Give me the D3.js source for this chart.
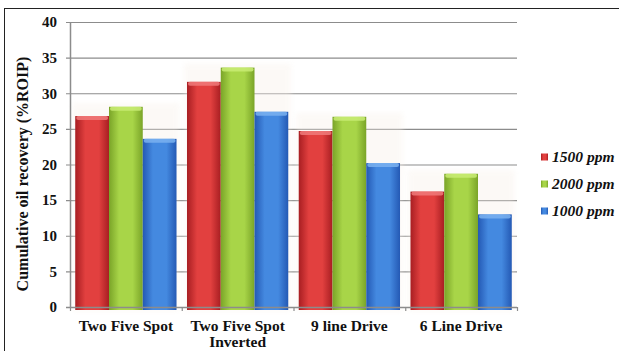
<!DOCTYPE html>
<html>
<head>
<meta charset="utf-8">
<script src="https://cdn.jsdelivr.net/npm/d3@7"></script>
<style>
  html, body { margin: 0; padding: 0; background: #fff; }
  svg { display: block; }
  text { font-family: "Liberation Serif", "Times New Roman", serif; font-weight: bold; fill: #111; }
</style>
</head>
<body>
<svg id="chart" width="619" height="351"></svg>
<script>
// Recovery by well pattern and polymer concentration
const categories = [["Two Five Spot"], ["Two Five Spot", "Inverted"], ["9 line Drive"], ["6 Line Drive"]];
const seriesNames = ["1500 ppm", "2000 ppm", "1000 ppm"];
const values1500 = [26.8, 31.6, 24.7, 16.2];
const values2000 = [28.1, 33.6, 26.7, 18.7];
const values1000 = [23.6, 27.4, 20.2, 13.0];
const yTicks = [0, 5, 10, 15, 20, 25, 30, 35, 40];

const seriesValues = [values1500, values2000, values1000];
const palette = [
  { edge: "#a81e22", mid: "#e2403f", cap: "#f07a7a" },
  { edge: "#7aa428", mid: "#a8d548", cap: "#c9ec74" },
  { edge: "#2459b4", mid: "#4489e0", cap: "#7ab2f0" }
];

const svg = d3.select("#chart");
const x0 = 70, x1 = 517, yTop = 22, yBot = 307;

// Frame around the chart
svg.append("rect").attr("x", 4.5).attr("y", 8.5).attr("width", 640).attr("height", 400)
  .attr("fill", "none").attr("stroke", "#222").attr("stroke-width", 1);

const defs = svg.append("defs");
palette.forEach((p, i) => {
  const g = defs.append("linearGradient").attr("id", "bar" + i).attr("x1", "0").attr("x2", "1").attr("y1", "0").attr("y2", "0");
  g.append("stop").attr("offset", "0%").attr("stop-color", p.edge);
  g.append("stop").attr("offset", "30%").attr("stop-color", p.mid);
  g.append("stop").attr("offset", "70%").attr("stop-color", p.mid);
  g.append("stop").attr("offset", "100%").attr("stop-color", p.edge);
});
const blur = defs.append("filter").attr("id", "glow").attr("x", "-30%").attr("y", "-10%").attr("width", "160%").attr("height", "120%");
blur.append("feGaussianBlur").attr("stdDeviation", 2.5);

const x = d3.scaleBand().domain(d3.range(categories.length)).range([x0, x1]).paddingInner(0).paddingOuter(0);
const xs = d3.scaleBand().domain(d3.range(seriesNames.length)).range([0, x.bandwidth()]).paddingInner(0).paddingOuter(0.155);
const y = d3.scaleLinear().domain([0, 40]).range([yBot, yTop]);

// Gridlines
svg.append("g").selectAll("line").data(yTicks.filter(d => d > 0)).join("line")
  .attr("x1", x0 - 4).attr("x2", x1).attr("y1", d => y(d) + 0.5).attr("y2", d => y(d) + 0.5)
  .attr("stroke", "#8c8c8c").attr("stroke-width", 1.2);

// Bars
const groups = svg.append("g").selectAll("g").data(categories).join("g")
  .attr("transform", (d, i) => `translate(${x(i)},0)`);

groups.each(function (c, ci) {
  const g = d3.select(this);
  const top = d3.max(seriesValues, s => s[ci]);
  // soft halo behind each cluster
  g.append("rect")
    .attr("x", xs(0) - 3).attr("width", xs.bandwidth() * 3 + 6)
    .attr("y", y(top) - 4).attr("height", yBot - y(top) + 8)
    .attr("fill", "#f8f0e8").attr("opacity", 0.35).attr("filter", "url(#glow)");
  seriesValues.forEach((s, si) => {
    const v = s[ci];
    const bx = xs(si), bw = xs.bandwidth();
    g.append("rect").attr("x", bx).attr("width", bw)
      .attr("y", y(v)).attr("height", yBot - y(v) + 3)
      .attr("fill", `url(#bar${si})`);
    g.append("rect").attr("x", bx + 1).attr("width", bw - 2)
      .attr("y", y(v)).attr("height", 4).attr("rx", 2)
      .attr("fill", palette[si].cap).attr("opacity", 0.85);
  });
});

// Axes
svg.append("line").attr("x1", x0 + 0.5).attr("x2", x0 + 0.5).attr("y1", yTop).attr("y2", yBot)
  .attr("stroke", "#8c8c8c").attr("stroke-width", 1.5);
svg.append("line").attr("x1", x0 - 4).attr("x2", x1).attr("y1", yBot + 0.5).attr("y2", yBot + 0.5)
  .attr("stroke", "#8c8c8c").attr("stroke-width", 1.5);
// category tick marks
svg.append("g").selectAll("line").data(d3.range(categories.length + 1)).join("line")
  .attr("x1", i => (i < categories.length ? x(i) : x1) + 0.5)
  .attr("x2", i => (i < categories.length ? x(i) : x1) + 0.5)
  .attr("y1", yBot).attr("y2", yBot + 4)
  .attr("stroke", "#8c8c8c").attr("stroke-width", 1.2);

// Y tick labels
svg.append("g").selectAll("text").data(yTicks).join("text")
  .attr("x", 57).attr("y", d => y(d)).attr("dy", "0.35em")
  .attr("text-anchor", "end").attr("font-size", 15).text(d => d);

// Category labels
const cl = svg.append("g").selectAll("text").data(categories).join("text")
  .attr("x", (d, i) => x(i) + x.bandwidth() / 2).attr("y", 331)
  .attr("text-anchor", "middle").attr("font-size", 15.5);
cl.selectAll("tspan").data(d => d).join("tspan")
  .attr("x", function () { return d3.select(this.parentNode).attr("x"); })
  .attr("dy", (d, i) => i === 0 ? 0 : 16).text(d => d);

// Y axis title
svg.append("text").attr("transform", "translate(22,174) rotate(-90)")
  .attr("text-anchor", "middle").attr("dy", "0.35em").attr("font-size", 16)
  .text("Cumulative oil recovery (%ROIP)");

// Legend
const lg = svg.append("g").selectAll("g").data(seriesNames).join("g")
  .attr("transform", (d, i) => `translate(541,${157 + i * 27})`);
lg.append("rect").attr("x", 0).attr("y", -3.5).attr("width", 7).attr("height", 7)
  .attr("fill", (d, i) => `url(#bar${i})`);
lg.append("text").attr("x", 11).attr("y", 0).attr("dy", "0.35em")
  .attr("font-size", 15.5).attr("font-style", "italic").text(d => d);
</script>
</body>
</html>
